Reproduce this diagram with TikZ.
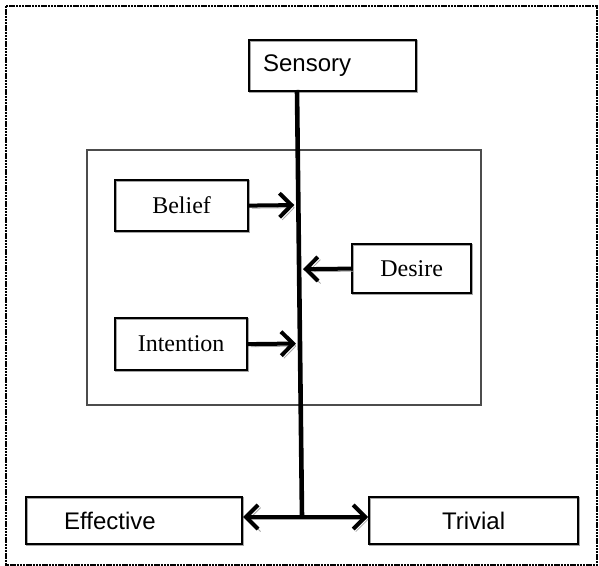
\documentclass[tikz,border=0pt]{standalone}
\usepackage{fontspec}
\setmainfont{Liberation Serif}
\newfontfamily\arialfont{Liberation Sans}
\usetikzlibrary{arrows.meta}
\usetikzlibrary{calc}
\tikzstyle{frame}=[draw=black, line width=1.3pt, dash pattern=on 1.2pt off 0.4pt]
\tikzstyle{panel}=[draw=black!70, line width=0.8pt]
\tikzstyle{box}=[draw, line width=1.1pt, inner sep=0pt, anchor=north west,
  preaction={draw=black!35, transform canvas={xshift=0.6pt,yshift=-0.6pt}}]
\tikzstyle{sbox}=[box, font=\arialfont\fontsize{12}{14}\selectfont]
\tikzstyle{tbox}=[box, font=\fontsize{12}{14}\selectfont]
\tikzstyle{arr}=[line width=2pt, -{Straight Barb[length=6pt,width=12pt]},
  preaction={draw=black!35, transform canvas={xshift=1.3pt,yshift=-1.3pt}}]
\tikzstyle{darr}=[arr, {Straight Barb[length=6pt,width=12pt]}-{Straight Barb[length=6pt,width=12pt]}]
\newcommand{\boxat}[6]{
\node[#1, minimum width=#4*0.5pt, minimum height=#5*0.5pt] (#2) at #3 {#6};
}
\newcommand{\lboxat}[7]{
\node[#1, align=left, inner xsep=#6*0.5pt, text width=(#4-2*#6)*0.5pt,
  minimum height=#5*0.5pt] (#2) at #3 {#7};
}
\begin{document}
\begin{tikzpicture}[x=0.5pt,y=-0.5pt]
\useasboundingbox (0,0) rectangle (599,566);
\draw[frame] (6,6) rectangle (597,565);
\draw[panel] (87,150) rectangle (481,405);
% boxes
\lboxat{sbox}{sensory}{(248,39)}{167}{51}{14}{Sensory}
\boxat{tbox}{belief}{(114,179)}{133}{51}{Belief}
\boxat{tbox}{desire}{(351,243)}{119}{49}{Desire}
\boxat{tbox}{intention}{(114,317)}{132}{52}{Intention}
\lboxat{sbox}{effective}{(25,496)}{216}{47}{38}{Effective}
\boxat{sbox}{trivial}{(368,496)}{209}{47}{Trivial}
% stem
\coordinate (stemtop) at (297,90);
\coordinate (stembot) at (302,517);
\draw[line width=2.3pt] (stemtop) -- (stembot);
\draw[arr, shorten >=2pt] (belief.east) -- ($(stemtop)!(belief.east)!(stembot)$);
\draw[arr, shorten >=2pt] (intention.east) -- ($(stemtop)!(intention.east)!(stembot)$);
\draw[arr, shorten >=2pt] (desire.west) -- ($(stemtop)!(desire.west)!(stembot)$);
\draw[darr] (stembot -| effective.east) -- (stembot -| trivial.west);
\end{tikzpicture}
\end{document}
